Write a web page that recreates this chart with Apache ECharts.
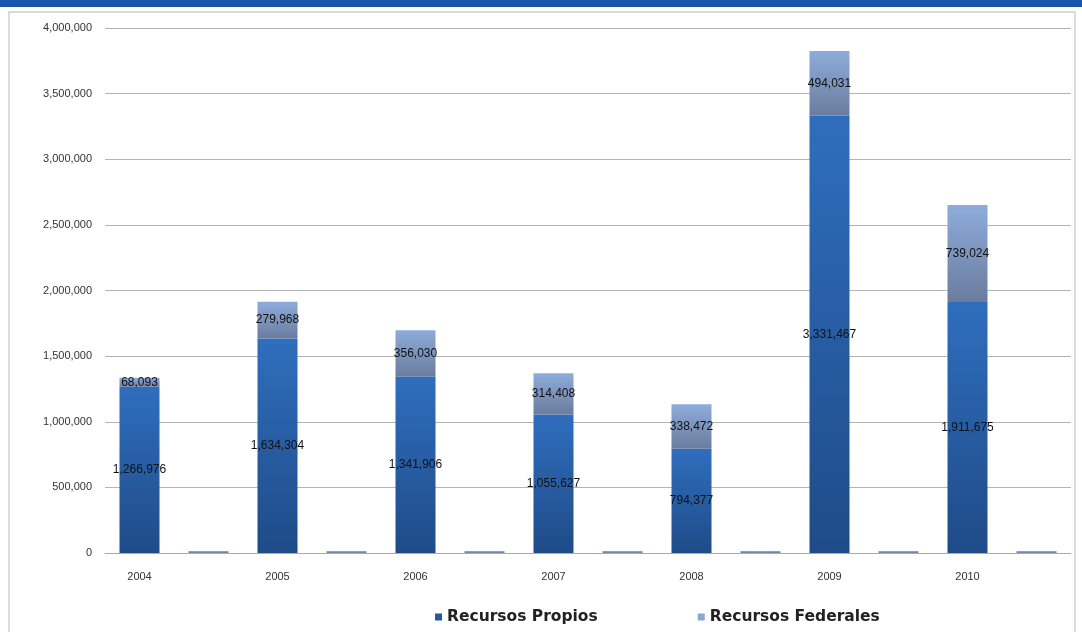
<!DOCTYPE html>
<html>
<head>
<meta charset="utf-8">
<script src="https://cdn.jsdelivr.net/npm/echarts@6/dist/echarts.min.js"></script>
<style>html,body{margin:0;padding:0;background:#fff;}#c{width:1082px;height:632px;}</style>
</head>
<body>
<div id="c"></div>
<script>
const categories = ['2004', ' ', '2005', '  ', '2006', '   ', '2007', '    ', '2008', '     ', '2009', '      ', '2010', '       '];
const recursosPropios = [1266976, 0, 1634304, 0, 1341906, 0, 1055627, 0, 794377, 0, 3331467, 0, 1911675, 0];
const recursosFederales = [68093, 15000, 279968, 15000, 356030, 15000, 314408, 15000, 338472, 15000, 494031, 15000, 739024, 15000];
const yTicks = [0, 500000, 1000000, 1500000, 2000000, 2500000, 3000000, 3500000, 4000000];

const fmt = v => String(v).replace(/\B(?=(\d{3})+(?!\d))/g, ',');
const isYear = n => /^\d{4}$/.test(n);

const chart = echarts.init(document.getElementById('c'));
chart.setOption({
  animation: false,
  backgroundColor: '#fff',
  graphic: [
    { type: 'rect', shape: { x: 0, y: 0, width: 1082, height: 7 }, style: { fill: '#1b55ad' }, z: 100 },
    { type: 'rect', shape: { x: 9, y: 12, width: 1066, height: 640 }, style: { fill: 'none', stroke: '#cfcfcf', lineWidth: 1.5 }, z: 0 }
  ],
  grid: { left: 105, right: 11, top: 28, bottom: 79, containLabel: false },
  legend: {
    top: 604,
    left: 430,
    itemWidth: 7, itemHeight: 7,
    itemGap: 100,
    icon: 'rect',
    textStyle: { fontFamily: 'DejaVu Sans', fontWeight: 'bold', fontSize: 15.5, color: '#222' },
    data: [
      { name: 'Recursos Propios', itemStyle: { color: '#2457a0' } },
      { name: 'Recursos Federales', itemStyle: { color: '#8aa6d6' } }
    ]
  },
  xAxis: {
    type: 'category',
    data: categories,
    axisLine: { lineStyle: { color: '#aaaaaa' } },
    axisTick: { show: false },
    axisLabel: { color: '#333', fontSize: 11, fontFamily: 'Liberation Sans, Arial', margin: 18, interval: 0 }
  },
  yAxis: {
    type: 'value',
    min: yTicks[0], max: yTicks[yTicks.length - 1], interval: 500000,
    axisLine: { show: false },
    axisTick: { show: false },
    splitLine: { lineStyle: { color: '#b4b4b4', width: 1 } },
    axisLabel: { color: '#333', fontSize: 11, fontFamily: 'Liberation Sans, Arial', margin: 13, formatter: v => fmt(v) }
  },
  series: [
    {
      name: 'Recursos Propios',
      type: 'bar',
      stack: 'total',
      barWidth: 40,
      data: recursosPropios,
      itemStyle: {
        color: new echarts.graphic.LinearGradient(0, 0, 0, 1, [
          { offset: 0, color: '#2f6ebd' },
          { offset: 1, color: '#1f4b88' }
        ])
      },
      label: {
        show: true, position: 'inside', color: '#111', fontSize: 12,
        fontFamily: 'Liberation Sans, Arial',
        formatter: p => isYear(p.name) ? fmt(p.value) : ''
      }
    },
    {
      name: 'Recursos Federales',
      type: 'bar',
      stack: 'total',
      barWidth: 40,
      data: recursosFederales,
      itemStyle: {
        color: new echarts.graphic.LinearGradient(0, 0, 0, 1, [
          { offset: 0, color: '#8eacdb' },
          { offset: 1, color: '#6b7c9e' }
        ])
      },
      label: {
        show: true, position: 'inside', color: '#111', fontSize: 12,
        fontFamily: 'Liberation Sans, Arial',
        formatter: p => isYear(p.name) ? fmt(p.value) : ''
      }
    }
  ]
});
</script>
</body>
</html>
